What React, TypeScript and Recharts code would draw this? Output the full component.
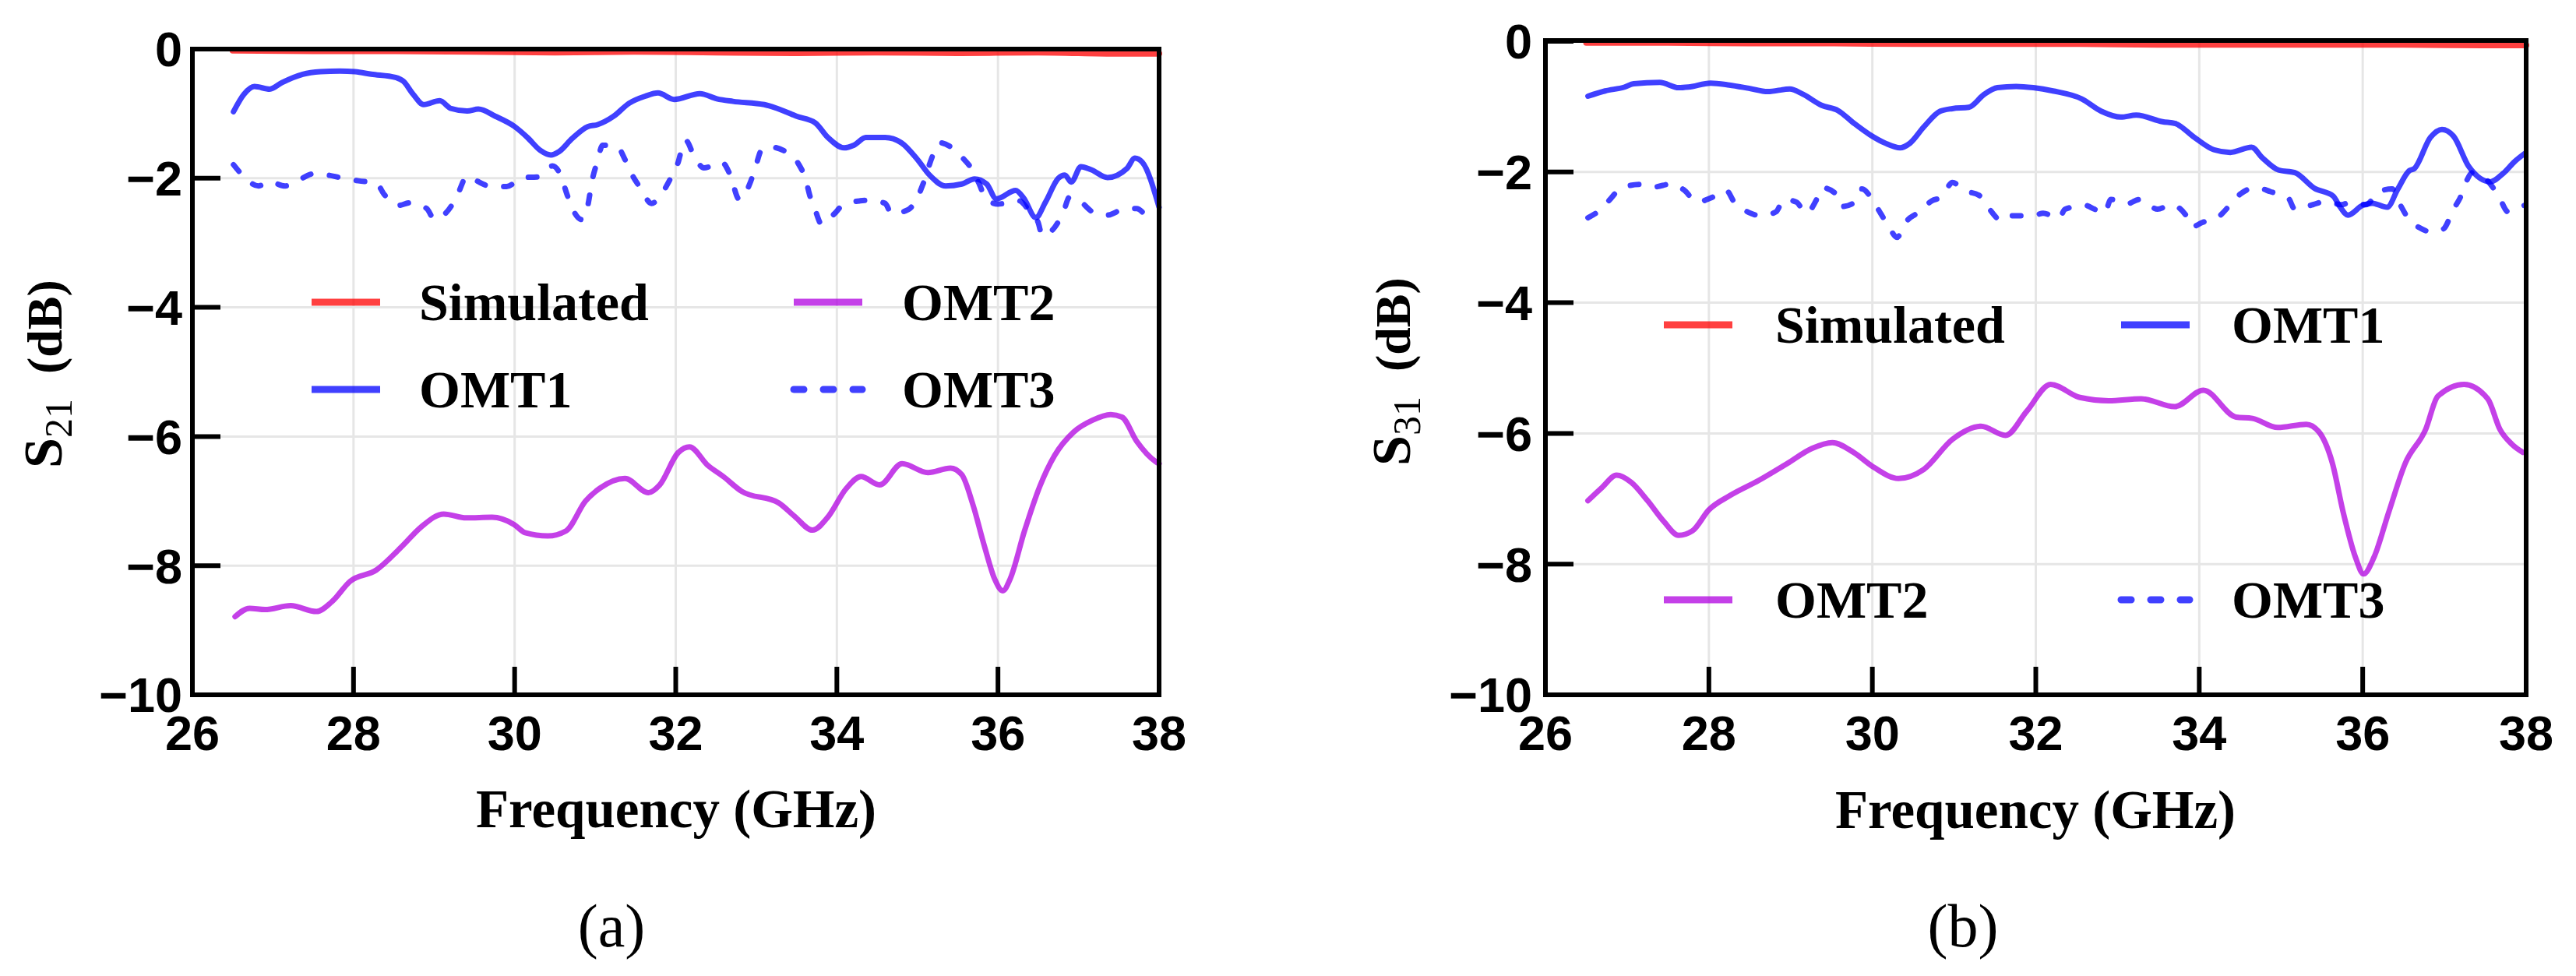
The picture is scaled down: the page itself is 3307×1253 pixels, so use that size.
import React from "react"
import { CartesianGrid, Legend, Line, LineChart, XAxis, YAxis } from "recharts"

type Pt = [number, number]

const freqTicks = [26, 28, 30, 32, 34, 36, 38]
const freqMinorTicks = [27, 29, 31, 33, 35, 37]
const dbTicks = [0, -2, -4, -6, -8, -10]

// (a) S21, [GHz, dB]
const s21Simulated: Pt[] = [
  [26.5, -0.02], [27.5, -0.03], [28.5, -0.03], [29.5, -0.04], [30.5, -0.05], [31.5, -0.04], [32.5, -0.05],
  [33.5, -0.06], [34.5, -0.05], [35.5, -0.06], [36.5, -0.05], [37.5, -0.07], [38, -0.07],
]
const s21Omt1: Pt[] = [
  [26.51, -0.97], [26.64, -0.7], [26.77, -0.58], [26.96, -0.62], [27.11, -0.52], [27.37, -0.39], [27.59, -0.35],
  [27.83, -0.34], [28.02, -0.35], [28.22, -0.39], [28.52, -0.44], [28.62, -0.5], [28.74, -0.7], [28.87, -0.86],
  [29.07, -0.8], [29.21, -0.92], [29.41, -0.96], [29.55, -0.93], [29.76, -1.04], [30.0, -1.2], [30.16, -1.37],
  [30.32, -1.57], [30.45, -1.64], [30.55, -1.59], [30.71, -1.39], [30.91, -1.2], [31.03, -1.17], [31.23, -1.04],
  [31.42, -0.84], [31.62, -0.73], [31.78, -0.68], [31.98, -0.78], [32.3, -0.69], [32.51, -0.77], [32.71, -0.81],
  [33.1, -0.86], [33.26, -0.92], [33.5, -1.04], [33.73, -1.14], [33.89, -1.37], [34.09, -1.53], [34.21, -1.49],
  [34.36, -1.37], [34.6, -1.37], [34.8, -1.45], [35.0, -1.71], [35.15, -1.95], [35.35, -2.12], [35.55, -2.09],
  [35.71, -2.01], [35.86, -2.09], [35.98, -2.32], [36.22, -2.19], [36.32, -2.31], [36.47, -2.61], [36.59, -2.37],
  [36.75, -2.0], [36.83, -1.95], [36.91, -2.06], [37.03, -1.82], [37.16, -1.87], [37.36, -1.99], [37.6, -1.85],
  [37.7, -1.69], [37.79, -1.75], [38.0, -2.45],
]
const s21Omt2: Pt[] = [
  [26.53, -8.79], [26.71, -8.66], [26.9, -8.68], [27.22, -8.62], [27.54, -8.71], [27.73, -8.56], [27.96, -8.24],
  [28.28, -8.07], [28.61, -7.69], [28.84, -7.4], [29.12, -7.2], [29.4, -7.26], [29.72, -7.25], [29.99, -7.36],
  [30.13, -7.49], [30.41, -7.54], [30.64, -7.46], [30.88, -7.0], [31.06, -6.8], [31.37, -6.65], [31.66, -6.87],
  [31.8, -6.75], [32.03, -6.25], [32.17, -6.16], [32.4, -6.45], [32.59, -6.62], [32.82, -6.85], [33.28, -7.03],
  [33.47, -7.23], [33.7, -7.45], [33.88, -7.26], [34.12, -6.8], [34.3, -6.62], [34.53, -6.75], [34.81, -6.42],
  [35.13, -6.56], [35.41, -6.49], [35.55, -6.59], [35.69, -7.06], [35.83, -7.69], [35.96, -8.21], [36.06, -8.39],
  [36.15, -8.21], [36.33, -7.46], [36.52, -6.77], [36.7, -6.3], [36.94, -5.93], [37.17, -5.75], [37.4, -5.66],
  [37.54, -5.7], [37.72, -6.07], [37.96, -6.39], [38.0, -6.42],
]
const s21Omt3: Pt[] = [
  [26.51, -1.79], [26.62, -1.95], [26.82, -2.12], [26.95, -2.05], [27.15, -2.12], [27.29, -2.05], [27.51, -1.93],
  [27.67, -1.95], [27.91, -2.01], [28.06, -2.04], [28.28, -2.07], [28.38, -2.25], [28.56, -2.42], [28.7, -2.38],
  [28.91, -2.47], [29.0, -2.63], [29.18, -2.49], [29.28, -2.29], [29.41, -1.97], [29.51, -2.03], [29.72, -2.13],
  [29.9, -2.13], [30.1, -1.99], [30.28, -1.98], [30.47, -1.81], [30.57, -1.95], [30.65, -2.25], [30.71, -2.45],
  [30.83, -2.64], [30.9, -2.47], [30.97, -1.99], [31.03, -1.73], [31.09, -1.49], [31.28, -1.52], [31.37, -1.71],
  [31.46, -1.95], [31.56, -2.15], [31.7, -2.39], [31.81, -2.27], [31.92, -2.04], [32.02, -1.79], [32.12, -1.41],
  [32.24, -1.69], [32.35, -1.84], [32.57, -1.75], [32.67, -1.93], [32.79, -2.33], [32.93, -2.05], [32.99, -1.83],
  [33.06, -1.57], [33.14, -1.51], [33.42, -1.63], [33.52, -1.77], [33.62, -2.05], [33.66, -2.25], [33.73, -2.49],
  [33.81, -2.71], [33.97, -2.55], [34.07, -2.42], [34.29, -2.35], [34.39, -2.34], [34.6, -2.39], [34.68, -2.55],
  [34.88, -2.49], [34.98, -2.35], [35.07, -2.09], [35.19, -1.65], [35.28, -1.45], [35.43, -1.53], [35.55, -1.67],
  [35.69, -1.89], [35.76, -2.07], [35.86, -2.33], [36.0, -2.4], [36.26, -2.35], [36.38, -2.49], [36.5, -2.69],
  [36.55, -2.89], [36.71, -2.75], [36.81, -2.53], [36.89, -2.29], [37.03, -2.37], [37.2, -2.54], [37.36, -2.57],
  [37.56, -2.48], [37.72, -2.47], [37.89, -2.63], [37.97, -2.65],
]

// (b) S31, [GHz, dB]
const s31Simulated: Pt[] = [
  [26.5, -0.02], [27.5, -0.02], [28.5, -0.03], [29.5, -0.03], [30.5, -0.04], [31.5, -0.04], [32.5, -0.04],
  [33.5, -0.05], [34.5, -0.05], [35.5, -0.05], [36.5, -0.05], [37.5, -0.06], [38, -0.06],
]
const s31Omt1: Pt[] = [
  [26.52, -0.84], [26.73, -0.76], [26.97, -0.7], [27.08, -0.65], [27.4, -0.63], [27.63, -0.71], [27.75, -0.7],
  [28.02, -0.64], [28.25, -0.67], [28.49, -0.72], [28.72, -0.77], [28.99, -0.73], [29.15, -0.81], [29.38, -0.98],
  [29.58, -1.06], [29.77, -1.25], [29.97, -1.43], [30.16, -1.56], [30.34, -1.63], [30.46, -1.56], [30.63, -1.31],
  [30.83, -1.07], [30.98, -1.03], [31.18, -1.01], [31.37, -0.81], [31.53, -0.71], [31.76, -0.69], [31.97, -0.71],
  [32.21, -0.76], [32.56, -0.88], [32.8, -1.07], [33.04, -1.16], [33.23, -1.13], [33.55, -1.23], [33.71, -1.26],
  [33.94, -1.47], [34.18, -1.66], [34.38, -1.7], [34.64, -1.62], [34.77, -1.78], [34.97, -1.97], [35.17, -2.01],
  [35.41, -2.25], [35.64, -2.37], [35.72, -2.53], [35.82, -2.66], [36.0, -2.51], [36.12, -2.48], [36.3, -2.54],
  [36.43, -2.26], [36.57, -1.98], [36.63, -1.95], [36.83, -1.47], [36.97, -1.35], [37.11, -1.45], [37.3, -1.92],
  [37.44, -2.1], [37.56, -2.15], [37.72, -2.02], [37.86, -1.84], [37.98, -1.72],
]
const s31Omt2: Pt[] = [
  [26.52, -7.03], [26.69, -6.83], [26.87, -6.64], [27.05, -6.75], [27.25, -7.03], [27.45, -7.35], [27.63, -7.56],
  [27.8, -7.49], [28.0, -7.17], [28.26, -6.95], [28.61, -6.72], [28.96, -6.46], [29.26, -6.23], [29.51, -6.14],
  [29.77, -6.29], [30.02, -6.52], [30.32, -6.69], [30.63, -6.55], [30.98, -6.09], [31.33, -5.89], [31.63, -6.03],
  [31.89, -5.66], [32.18, -5.25], [32.54, -5.45], [32.89, -5.5], [33.29, -5.47], [33.7, -5.59], [34.05, -5.34],
  [34.45, -5.75], [34.65, -5.77], [34.96, -5.91], [35.31, -5.86], [35.46, -5.97], [35.63, -6.46], [35.76, -7.2],
  [35.91, -7.89], [36.01, -8.15], [36.14, -7.89], [36.32, -7.2], [36.52, -6.46], [36.77, -5.94], [36.92, -5.43],
  [37.24, -5.25], [37.53, -5.47], [37.68, -5.94], [37.83, -6.17], [37.96, -6.29],
]
const s31Omt3: Pt[] = [
  [26.52, -2.7], [26.64, -2.61], [26.79, -2.42], [26.92, -2.25], [27.16, -2.19], [27.32, -2.23], [27.55, -2.18],
  [27.69, -2.27], [27.86, -2.46], [28.02, -2.4], [28.21, -2.28], [28.31, -2.46], [28.49, -2.62], [28.64, -2.67],
  [28.82, -2.61], [28.92, -2.42], [29.07, -2.46], [29.19, -2.63], [29.31, -2.44], [29.38, -2.24], [29.56, -2.34],
  [29.62, -2.53], [29.79, -2.46], [29.87, -2.26], [29.99, -2.4], [30.09, -2.61], [30.2, -2.83], [30.3, -3.0],
  [30.42, -2.75], [30.55, -2.63], [30.73, -2.44], [30.85, -2.38], [30.98, -2.16], [31.12, -2.28], [31.31, -2.36],
  [31.41, -2.53], [31.59, -2.75], [31.72, -2.67], [31.97, -2.67], [32.09, -2.63], [32.28, -2.71], [32.36, -2.57],
  [32.6, -2.51], [32.72, -2.57], [32.84, -2.63], [32.92, -2.42], [33.11, -2.49], [33.27, -2.42], [33.49, -2.57],
  [33.65, -2.5], [33.83, -2.65], [33.91, -2.84], [34.04, -2.77], [34.22, -2.7], [34.38, -2.5], [34.5, -2.34],
  [34.7, -2.24], [34.87, -2.3], [35.09, -2.4], [35.17, -2.57], [35.39, -2.5], [35.55, -2.45], [35.74, -2.5],
  [35.86, -2.46], [36.04, -2.5], [36.2, -2.3], [36.36, -2.26], [36.45, -2.48], [36.57, -2.73], [36.69, -2.85],
  [36.87, -2.92], [36.99, -2.87], [37.11, -2.57], [37.19, -2.4], [37.27, -2.14], [37.34, -2.01], [37.5, -2.1],
  [37.66, -2.36], [37.78, -2.61], [37.91, -2.54], [37.98, -2.51],
]

const seriesStyle: Record<string, { color: string; width: number; dash?: string }> = {
  Simulated: { color: "#ff0000", width: 8 },
  OMT1: { color: "#0000ff", width: 7 },
  OMT2: { color: "#b000e0", width: 7 },
  OMT3: { color: "#0000ff", width: 7, dash: "11 24" },
}

const SANS = "'Liberation Sans', Arial, sans-serif"
const SERIF = "'Liberation Serif', 'Times New Roman', serif"
const H = 1253

const toRows = (pts: Pt[]) => pts.map(([f, v]) => ({ f, v }))
const fmtDb = (v: number) => (v === 0 ? "0" : `\u2212${Math.abs(v)}`)

type LegendItem = { name: string; x: number; tx: number; y: number }

function LegendBox({ items, width }: { items: LegendItem[]; width: number }) {
  return (
    <svg width={width} height={H} style={{ position: "absolute", left: 0, top: 0, overflow: "visible", pointerEvents: "none" }}>
      {items.map((it) => {
        const st = seriesStyle[it.name]
        return (
          <g key={it.name}>
            <line
              x1={it.x}
              x2={it.x + 88}
              y1={it.y}
              y2={it.y}
              stroke={st.color}
              strokeOpacity={0.75}
              strokeWidth={9}
              strokeDasharray={st.dash ? "13 25" : undefined}
              strokeLinecap={st.dash ? "round" : "butt"}
            />
            <text x={it.tx} y={it.y + 23} fontFamily={SERIF} fontWeight="bold" fontSize={68} fill="#000">
              {it.name}
            </text>
          </g>
        )
      })}
    </svg>
  )
}

interface PanelProps {
  left: number
  width: number
  plot: { top: number; bottom: number; left: number; right: number } // plot box in chart px
  series: { name: string; pts: Pt[] }[]
  legend: LegendItem[]
  sub: string
  minor: boolean
  yTickMargin: number
  yTitle: { x: number; y: number }
  xTitle: { x: number; y: number }
}

function Panel({ left, width, plot, series, legend, sub, minor, yTickMargin, yTitle, xTitle }: PanelProps) {
  const axisLine = { stroke: "#000", strokeWidth: 6, strokeLinecap: "square" as const }
  const tickLine = { stroke: "#000", strokeWidth: 6 }
  const tickFont = { fontFamily: SANS, fontWeight: "bold", fontSize: 63, fill: "#000" }
  const blank = () => ""
  // every axis is 1px thick so it still renders; margins make up the rest
  const nx = minor ? 2 : 1
  const margin = {
    top: plot.top - nx,
    bottom: H - plot.bottom - nx,
    left: plot.left - 1,
    right: width - plot.right - 1,
  }

  return (
    <div style={{ position: "absolute", left, top: 0 }}>
      <LineChart width={width} height={H} margin={margin}>
        <CartesianGrid stroke="#e6e6e6" strokeWidth={3} />
        <XAxis
          type="number"
          dataKey="f"
          domain={[26, 38]}
          ticks={freqTicks}
          interval={0}
          height={1}
          tickSize={-36}
          tickMargin={62}
          axisLine={axisLine}
          tickLine={tickLine}
          tick={tickFont}
          label={{
            content: () => (
              <text x={xTitle.x} y={xTitle.y} textAnchor="middle" fontFamily={SERIF} fontWeight="bold" fontSize={69} fill="#000">
                Frequency (GHz)
              </text>
            ),
          }}
        />
        <XAxis
          xAxisId="top"
          orientation="top"
          type="number"
          domain={[26, 38]}
          ticks={freqTicks}
          interval={0}
          height={1}
          tickSize={-36}
          axisLine={axisLine}
          tickLine={tickLine}
          tickFormatter={blank}
        />
        {minor && (
          <XAxis
            xAxisId="minorBottom"
            type="number"
            domain={[26, 38]}
            ticks={freqMinorTicks}
            interval={0}
            height={1}
            tickSize={-19}
            axisLine={false}
            tickLine={tickLine}
            tickFormatter={blank}
          />
        )}
        {minor && (
          <XAxis
            xAxisId="minorTop"
            orientation="top"
            type="number"
            domain={[26, 38]}
            ticks={freqMinorTicks}
            interval={0}
            height={1}
            tickSize={-19}
            axisLine={false}
            tickLine={tickLine}
            tickFormatter={blank}
          />
        )}
        <YAxis
          type="number"
          domain={[-10, 0]}
          ticks={dbTicks}
          interval={0}
          width={1}
          tickSize={-36}
          tickMargin={yTickMargin}
          axisLine={axisLine}
          tickLine={tickLine}
          tick={tickFont}
          tickFormatter={fmtDb}
          label={{
            content: () => (
              <text transform={`translate(${yTitle.x},${yTitle.y}) rotate(-90)`} fontFamily={SERIF} fill="#000">
                <tspan fontWeight="bold" fontSize={70}>S</tspan>
                <tspan fontSize={50} dy={13}>{sub}</tspan>
                <tspan fontWeight="bold" fontSize={64} dy={-13} dx={32}>(dB)</tspan>
              </text>
            ),
          }}
        />
        <YAxis
          yAxisId="right"
          orientation="right"
          type="number"
          domain={[-10, 0]}
          ticks={dbTicks}
          interval={0}
          width={1}
          tickSize={-36}
          axisLine={axisLine}
          tickLine={tickLine}
          tickFormatter={blank}
        />
        {series.map((s) => {
          const st = seriesStyle[s.name]
          return (
            <Line
              key={s.name}
              data={toRows(s.pts)}
              dataKey="v"
              name={s.name}
              type="monotone"
              stroke={st.color}
              strokeOpacity={0.75}
              strokeWidth={st.width}
              strokeDasharray={st.dash}
              strokeLinecap="round"
              strokeLinejoin="round"
              dot={false}
              activeDot={false}
              isAnimationActive={false}
            />
          )
        })}
        <Legend content={() => <LegendBox items={legend} width={width} />} wrapperStyle={{ left: 0, top: 0 }} />
      </LineChart>
    </div>
  )
}

export default function App() {
  return (
    <div style={{ position: "relative", width: 3307, height: H, background: "#fff" }}>
      <style>{"body{margin:0}"}</style>
      <Panel
        left={0}
        width={1650}
        plot={{ top: 63, bottom: 892, left: 247, right: 1488 }}
        series={[
          { name: "Simulated", pts: s21Simulated },
          { name: "OMT2", pts: s21Omt2 },
          { name: "OMT3", pts: s21Omt3 },
          { name: "OMT1", pts: s21Omt1 },
        ]}
        legend={[
          { name: "Simulated", x: 400, tx: 538, y: 388 },
          { name: "OMT2", x: 1019, tx: 1158, y: 388 },
          { name: "OMT1", x: 400, tx: 538, y: 500 },
          { name: "OMT3", x: 1019, tx: 1158, y: 500 },
        ]}
        sub="21"
        minor={false}
        yTickMargin={49}
        yTitle={{ x: 79, y: 601 }}
        xTitle={{ x: 868, y: 1062 }}
      />
      <Panel
        left={1650}
        width={1657}
        plot={{ top: 53, bottom: 892, left: 334, right: 1593 }}
        series={[
          { name: "Simulated", pts: s31Simulated },
          { name: "OMT2", pts: s31Omt2 },
          { name: "OMT3", pts: s31Omt3 },
          { name: "OMT1", pts: s31Omt1 },
        ]}
        legend={[
          { name: "Simulated", x: 486, tx: 629, y: 417 },
          { name: "OMT1", x: 1073, tx: 1215, y: 417 },
          { name: "OMT2", x: 486, tx: 629, y: 770 },
          { name: "OMT3", x: 1073, tx: 1215, y: 770 },
        ]}
        sub="31"
        minor={true}
        yTickMargin={53}
        yTitle={{ x: 160, y: 598 }}
        xTitle={{ x: 963, y: 1063 }}
      />
      <svg width={3307} height={H} style={{ position: "absolute", left: 0, top: 0, pointerEvents: "none" }}>
        <text x={785} y={1215} textAnchor="middle" fontFamily={SERIF} fontSize={78} fill="#000">(a)</text>
        <text x={2520} y={1215} textAnchor="middle" fontFamily={SERIF} fontSize={78} fill="#000">(b)</text>
      </svg>
    </div>
  )
}
